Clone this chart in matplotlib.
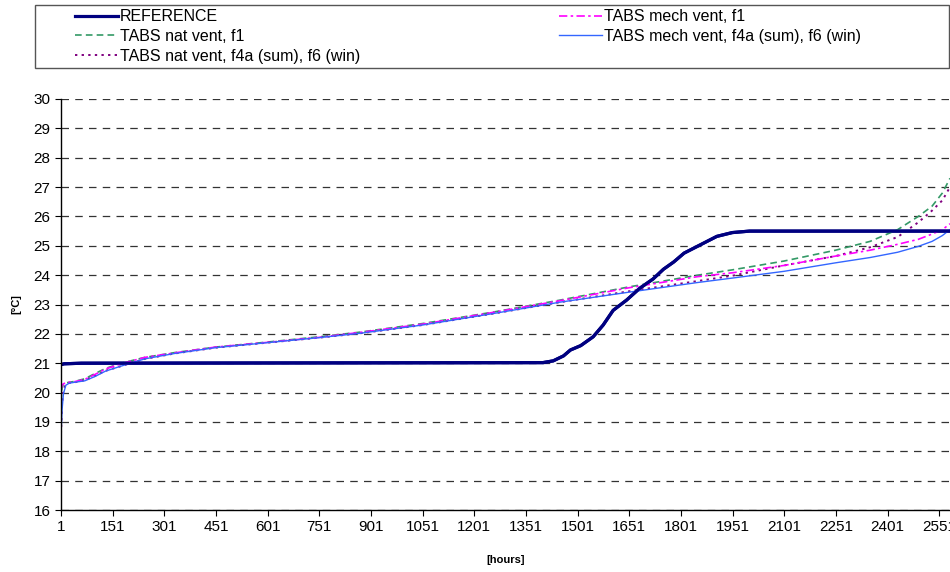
import matplotlib
matplotlib.use("Agg")
import matplotlib.pyplot as plt
from matplotlib.patches import Rectangle

plt.rcParams['font.family'] = ['Liberation Sans', 'DejaVu Sans']

# duration curves, hours sorted by temperature
hours = [1, 4, 8, 15, 25, 40, 70, 100, 130, 175, 245, 330, 450, 600, 750, 870,
         1050, 1250, 1450, 1650, 1850, 1950, 2100, 2250, 2350, 2430, 2490, 2530, 2560, 2582]

mech_f4a = [18.55, 19.4, 19.95, 20.25, 20.32, 20.35, 20.4, 20.55, 20.73, 20.9, 21.15, 21.33, 21.53, 21.7, 21.87, 22.02,
            22.3, 22.68, 23.08, 23.42, 23.75, 23.9, 24.13, 24.42, 24.6, 24.78, 24.98, 25.15, 25.35, 25.55]
nat_f1 = [19.7, 20.15, 20.3, 20.33, 20.35, 20.38, 20.47, 20.65, 20.82, 21.0, 21.2, 21.36, 21.55, 21.72, 21.9, 22.06,
          22.35, 22.73, 23.15, 23.6, 24.0, 24.18, 24.48, 24.85, 25.15, 25.55, 26.0, 26.35, 26.8, 27.3]
mech_f1 = [20.1, 20.25, 20.3, 20.33, 20.35, 20.37, 20.45, 20.62, 20.8, 20.98, 21.2, 21.35, 21.55, 21.71, 21.88, 22.05,
           22.33, 22.72, 23.13, 23.57, 23.95, 24.08, 24.33, 24.65, 24.85, 25.05, 25.22, 25.4, 25.55, 25.75]
nat_f4a = [18.6, 19.6, 20.1, 20.28, 20.33, 20.35, 20.42, 20.57, 20.74, 20.9, 21.15, 21.33, 21.53, 21.7, 21.87, 22.02,
           22.3, 22.68, 23.08, 23.45, 23.8, 23.98, 24.33, 24.65, 24.95, 25.3, 25.8, 26.2, 26.55, 27.0]

ref_hours = [1, 10, 60, 1400, 1430, 1460, 1480, 1510, 1546, 1575, 1604, 1643, 1681, 1720, 1750, 1780,
             1810, 1855, 1905, 1950, 2000, 2582]
ref_temp = [20.95, 20.98, 21.0, 21.02, 21.08, 21.25, 21.45, 21.6, 21.9, 22.3, 22.8, 23.15, 23.55, 23.87, 24.2, 24.45,
            24.75, 25.02, 25.32, 25.45, 25.5, 25.5]

xticks = list(range(1, 2552, 150))
yticks = list(range(16, 31))

fig = plt.figure(figsize=(9.5, 5.72), dpi=100)
ax = fig.add_axes([61/950, 1-510/572, 1-61/950, (510-99)/572])

l_ref, = ax.plot(ref_hours, ref_temp, color='#000080', lw=2.3, label='REFERENCE')
l_nf1, = ax.plot(hours, nat_f1, color='#339966', lw=1.2, ls=(0, (4, 2.5)), label='TABS nat vent, f1')
l_nf4, = ax.plot(hours, nat_f4a, color='#800080', lw=1.4, ls=(0, (1.2, 2.2)), label='TABS nat vent, f4a (sum), f6 (win)')
l_mf1, = ax.plot(hours, mech_f1, color='#FF00FF', lw=1.2, ls=(0, (5, 2, 1.5, 2)), label='TABS mech vent, f1')
l_mf4, = ax.plot(hours, mech_f4a, color='#3366FF', lw=1.0, label='TABS mech vent, f4a (sum), f6 (win)')
# redraw reference on top
ax.plot(ref_hours, ref_temp, color='#000080', lw=2.3)

ax.set_xlim(1, 2582)
ax.set_ylim(16, 30)
ax.set_xticks(xticks)
ax.set_yticks(yticks)
ax.tick_params(labelsize=11, length=4, width=0.8, direction='out')
ax.yaxis.grid(True, color='#333333', lw=0.9, ls=(0, (6, 5)))
ax.set_axisbelow(True)
for s in ['top', 'right']:
    ax.spines[s].set_visible(False)
for s in ['left', 'bottom']:
    ax.spines[s].set_linewidth(1.0)

ax.set_xlabel('[hours]', fontsize=8, fontweight='bold', labelpad=15)
ax.set_ylabel('[°C]', fontsize=8, fontweight='bold', labelpad=9)

fig.patches.append(Rectangle((35/950, 1-68/572), 914/950, 63/572, transform=fig.transFigure,
                             fill=False, edgecolor='#555555', lw=1.0))
fig.legend([l_ref, l_nf1, l_nf4, l_mf1, l_mf4],
           [l.get_label() for l in [l_ref, l_nf1, l_nf4, l_mf1, l_mf4]],
           ncol=2, loc='upper left', bbox_to_anchor=(64/950, 1+2/572), frameon=False,
           fontsize=11.5, handlelength=2.7, handletextpad=0.12, columnspacing=12.4,
           labelspacing=0.3, borderpad=0.2)

fig.savefig('out.png', dpi=100)
